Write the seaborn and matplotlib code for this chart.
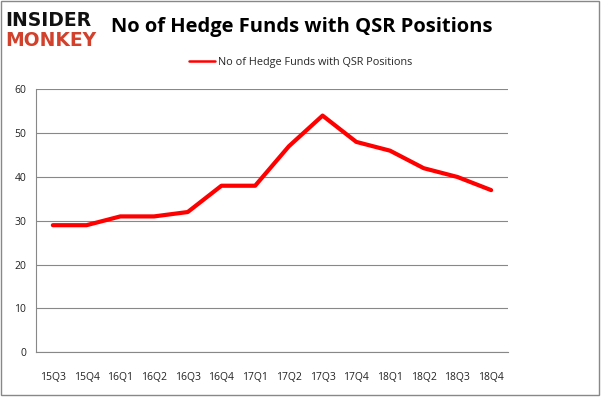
import matplotlib
matplotlib.use("Agg")
import matplotlib.pyplot as plt
import seaborn as sns
import numpy as np
import pandas as pd
from matplotlib.patches import Rectangle
from matplotlib.lines import Line2D

quarters = ["15Q3", "15Q4", "16Q1", "16Q2", "16Q3", "16Q4", "17Q1", "17Q2",
            "17Q3", "17Q4", "18Q1", "18Q2", "18Q3", "18Q4"]
funds = [29, 29, 31, 31, 32, 38, 38, 47, 54, 48, 46, 42, 40, 37]
series_name = "No of Hedge Funds with QSR Positions"
title = "No of Hedge Funds with QSR Positions"
yticks = [0, 10, 20, 30, 40, 50, 60]

sns.set_theme(style="white")
plt.rcParams['font.family'] = ['Open Sans', 'DejaVu Sans']

df = pd.DataFrame({"quarter": quarters, "funds": funds})

fig = plt.figure(figsize=(6.02, 3.98), dpi=100)
ax = fig.add_axes([36/602, 1-352.3/398, (508-36)/602, (352.3-89.3)/398])

sns.lineplot(data=df, x="quarter", y="funds", sort=False, color="#ff0000",
             linewidth=3.0, ax=ax, legend=False)

ax.set_xlim(-0.5, len(quarters) - 0.5)
ax.set_ylim(0, 60)
ax.set_yticks(yticks)
ax.set_yticklabels([str(v) for v in yticks], fontsize=7.5, color="#222222")
ax.set_xticks(range(len(quarters)))
ax.set_xticklabels(quarters, fontsize=7.5, color="#222222")
ax.set_xticks(np.arange(-0.5, len(quarters), 1.0), minor=True)
ax.tick_params(axis="x", which="major", length=0, pad=14)
ax.tick_params(axis="x", which="minor", length=4, width=0.8, color="#888888", direction="out")
ax.tick_params(axis="y", which="major", length=4, width=0.8, color="#888888", direction="out", pad=3)
ax.set_xlabel("")
ax.set_ylabel("")
ax.grid(axis="y", color="#888888", linewidth=0.8)
ax.set_axisbelow(True)
for s in ["top", "right"]:
    ax.spines[s].set_visible(False)
for s in ["left", "bottom"]:
    ax.spines[s].set_color("#888888")
    ax.spines[s].set_linewidth(0.8)

# legend
handle = Line2D([], [], color="#ff0000", linewidth=1.8)
fig.legend(handles=[handle], labels=[series_name], loc="center",
           bbox_to_anchor=(301/602, 1-62/398), frameon=False, fontsize=7.8,
           handlelength=2.4, handletextpad=0.3)

# title
fig.text(111/602, 1-27/398, title, fontsize=14.5, fontweight="bold",
         ha="left", va="center", color="black")

# logo
fig.text(5/602, 1-20/398, "INSIDER", fontsize=13.5, fontweight="heavy",
         ha="left", va="center", color="#111111", family=["DejaVu Sans"])
fig.text(5/602, 1-40/398, "MONKEY", fontsize=13.5, fontweight="heavy",
         ha="left", va="center", color="#d2412c", family=["DejaVu Sans"])

# figure border
fig.patches.append(Rectangle((1/602, 3/398), 598/602, 394/398, transform=fig.transFigure,
                             fill=False, edgecolor="#888888", linewidth=1.0))

fig.savefig("out.png", dpi=100)
